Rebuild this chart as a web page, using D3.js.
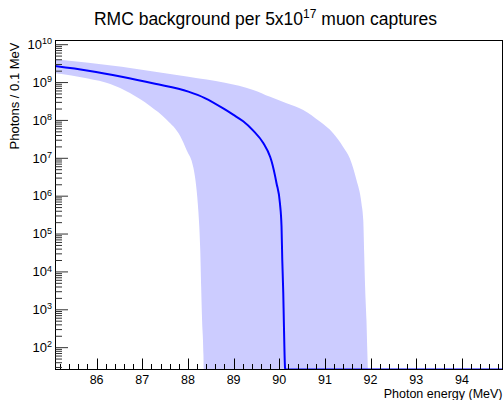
<!DOCTYPE html>
<html>
<head>
<meta charset="utf-8">
<script src="https://cdn.jsdelivr.net/npm/d3@7"></script>
<style>
  html, body { margin: 0; padding: 0; background: #fff; }
  svg { display: block; font-family: "Liberation Sans", Arial, Helvetica, sans-serif; }
</style>
</head>
<body>
<svg id="chart" width="503" height="400"></svg>
<script>
// ---- data ----
const centralE = [85.09, 85.82, 86.55, 87.28, 88.01, 88.37, 88.81, 88.99, 89.21, 89.43, 89.65, 89.80, 89.83, 89.94, 90.015, 90.05, 90.066, 90.088, 90.10, 90.125, 90.13, 94.9];
const centralV = [2.74e9, 2.06e9, 1.43e9, 9.3e8, 5.75e8, 3.9e8, 1.95e8, 1.42e8, 9.5e7, 5.4e7, 2.54e7, 1.1e7, 8.5e6, 2.2e6, 6.5e5, 1.55e5, 2.1e4, 2.75e3, 5.4e2, 32, 1, 1];

const upperE = [85.09, 85.82, 86.55, 87.28, 88.01, 88.81, 89.43, 89.80, 90.16, 90.525, 90.89, 91.18, 91.40, 91.545, 91.69, 91.80, 91.84, 91.86, 91.88, 91.91, 91.93, 91.95];
const upperV = [4.12e9, 3.35e9, 2.63e9, 1.94e9, 1.43e9, 9.9e8, 6.4e8, 4.2e8, 2.84e8, 1.89e8, 9.3e7, 4.6e7, 2.0e7, 1.0e7, 2.7e6, 6.5e5, 2.3e5, 3.1e4, 4.1e3, 5.4e2, 71, 10];

const lowerE = [85.09, 85.81, 86.30, 86.73, 87.17, 87.54, 87.83, 87.97, 88.12, 88.19, 88.23, 88.27, 88.29, 88.31, 88.34, 88.35];
const lowerV = [1.76e9, 1.28e9, 9.2e8, 5.3e8, 2.41e8, 1.03e8, 3.9e7, 1.66e7, 5.6e6, 1.46e6, 3.8e5, 3.8e4, 4.0e3, 5.4e2, 64, 10];

const xMajorTicks = [86, 87, 88, 89, 90, 91, 92, 93, 94];
const yMajorExponents = [2, 3, 4, 5, 6, 7, 8, 9, 10];

const titleMain = "RMC background per 5x10";
const titleSup = "17";
const titleEnd = " muon captures";
const xTitle = "Photon energy (MeV)";
const yTitle = "Photons / 0.1 MeV";

// ---- layout ----
const L = 55.5, R = 503, T = 40.5, B = 369.5;
const svg = d3.select("#chart");

const x = d3.scaleLinear().domain([85.1, 94.9]).range([L, R]);
const y = d3.scaleLog().domain([26.5, 1.29e10]).range([B, T]);
const yc = d3.scaleLog().domain([26.5, 1.29e10]).range([B, T]).clamp(true);

svg.append("defs").append("clipPath").attr("id", "frameclip")
  .append("rect").attr("x", L).attr("y", T).attr("width", R - L).attr("height", B - T);

const plot = svg.append("g").attr("clip-path", "url(#frameclip)");

// band polygon: smooth upper edge ascending, then smooth lower edge descending
const edge = d3.line().x(d => x(d[0])).y(d => y(d[1])).curve(d3.curveMonotoneX);
const upPts = upperE.map((e, i) => [e, upperV[i]]);
const loPts = lowerE.map((e, i) => [e, lowerV[i]]).reverse();
const bandD = edge(upPts) + "L" + edge(loPts).slice(1) + "Z";
plot.append("path")
  .attr("d", bandD)
  .attr("fill", "#ccccff")
  .attr("stroke", "none");

// central line
const centralPts = centralE.map((e, i) => [e, centralV[i]]);
plot.append("path")
  .attr("d", d3.line().x(d => x(d[0])).y(d => yc(d[1])).curve(d3.curveMonotoneX)(centralPts))
  .attr("fill", "none")
  .attr("stroke", "#0000ff")
  .attr("stroke-width", 2)
  .attr("stroke-linejoin", "round");

// ---- axes ----
const axes = svg.append("g").attr("stroke", "#000").attr("stroke-width", 1).attr("fill", "none");
// frame
axes.append("rect").attr("x", L).attr("y", T).attr("width", R - L - 0.5).attr("height", B - T);

// x ticks (inward, upward)
const xMinor = d3.range(852, 950, 2).map(v => v / 10).filter(v => Math.abs(v - Math.round(v)) > 1e-6);
xMinor.forEach(v => {
  const px = Math.round(x(v)) + 0.5;
  axes.append("line").attr("x1", px).attr("x2", px).attr("y1", B).attr("y2", B - 5.5);
});
xMajorTicks.forEach(v => {
  const px = Math.round(x(v)) + 0.5;
  axes.append("line").attr("x1", px).attr("x2", px).attr("y1", B).attr("y2", B - 11);
});

// y ticks (inward, to the right)
const yMinor = [];
for (let n = 1; n <= 9; n++) for (let k = 2; k <= 9; k++) {
  const v = k * Math.pow(10, n);
  if (v >= 26.5 && v <= 1.29e10) yMinor.push(v);
}
yMinor.forEach(v => {
  axes.append("line").attr("x1", L).attr("x2", L + 6.5).attr("y1", y(v)).attr("y2", y(v)).attr("stroke", "#333");
});
yMajorExponents.forEach(n => {
  const py = y(Math.pow(10, n));
  axes.append("line").attr("x1", L).attr("x2", L + 12.5).attr("y1", py).attr("y2", py).attr("stroke", "#333");
});

// ---- labels ----
const labels = svg.append("g").attr("fill", "#000");
xMajorTicks.forEach(v => {
  labels.append("text").attr("x", x(v)).attr("y", 384)
    .attr("text-anchor", "middle").attr("font-size", 12.5).text(v);
});
yMajorExponents.forEach(n => {
  const py = y(Math.pow(10, n));
  const t = labels.append("text").attr("x", 52).attr("y", py + 4.2)
    .attr("text-anchor", "end").attr("font-size", 13);
  t.append("tspan").text("10");
  t.append("tspan").attr("dy", -4.5).attr("font-size", 9).text(n);
});

// title
const title = labels.append("text").attr("x", 265.5).attr("y", 25)
  .attr("text-anchor", "middle").attr("font-size", 17.5);
title.append("tspan").text(titleMain);
title.append("tspan").attr("dy", -7).attr("font-size", 12).text(titleSup);
title.append("tspan").attr("dy", 7).text(titleEnd);

// axis titles
labels.append("text").attr("x", 502.5).attr("y", 398)
  .attr("text-anchor", "end").attr("font-size", 12.5).text(xTitle);
labels.append("text").attr("transform", "translate(18.7,42.5) rotate(-90)")
  .attr("text-anchor", "end").attr("font-size", 13).text(yTitle);
</script>
</body>
</html>
